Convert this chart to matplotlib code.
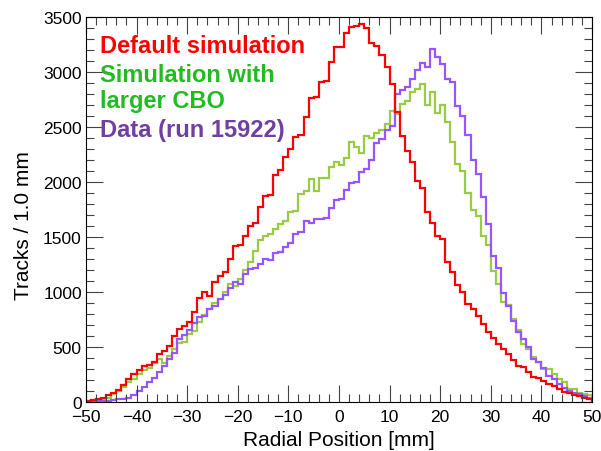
import numpy as np
import matplotlib
matplotlib.use("Agg")
import matplotlib.pyplot as plt
from matplotlib.ticker import MultipleLocator

# === DATA (tracks per 1 mm bin, bins from -50 to 50) ===
edges = np.arange(-50, 51, 1)

default_sim = [
    12, 18, 25, 34, 64, 88, 112, 155, 209, 255,        # -50 .. -41
    294, 330, 336, 366, 436, 466, 512, 603, 664, 694,   # -40 .. -31
    730, 818, 945, 1000, 966, 1094, 1145, 1180, 1300, 1418,   # -30 .. -21
    1427, 1512, 1603, 1627, 1773, 1872, 1880, 2063, 2112, 2227,  # -20 .. -11
    2300, 2409, 2430, 2590, 2763, 2770, 2909, 2920, 3090, 3227,  # -10 .. -1
    3230, 3354, 3412, 3420, 3440, 3400, 3263, 3240, 3157, 3045,  # 0 .. 9
    2890, 2636, 2421, 2285, 2181, 2012, 1951, 1724, 1633, 1512,  # 10 .. 19
    1482, 1270, 1179, 1064, 997, 891, 845, 785, 709, 640,        # 20 .. 29
    582, 527, 482, 436, 385, 330, 318, 276, 230, 224,            # 30 .. 39
    188, 164, 148, 124, 94, 79, 64, 58, 42, 33,                  # 40 .. 49
]

larger_cbo = [
    12, 15, 20, 28, 42, 73, 103, 142, 185, 215,
    255, 294, 315, 360, 391, 360, 421, 482, 536, 545,
    618, 648, 730, 791, 845, 900, 936, 997, 1073, 1060,
    1118, 1203, 1276, 1376, 1476, 1512, 1527, 1573, 1618, 1648,
    1724, 1739, 1891, 1918, 2027, 1918, 2042, 2042, 2139, 2179,
    2152, 2218, 2366, 2315, 2261, 2421, 2400, 2451, 2470, 2527,
    2648, 2618, 2709, 2733, 2815, 2845, 2891, 2705, 2815, 2630,
    2700, 2542, 2368, 2163, 2100, 1900, 1750, 1690, 1512, 1430,
    1188, 1073, 912, 882, 754, 655, 530, 480, 410, 366,
    306, 300, 255, 215, 185, 124, 118, 88, 73, 64,
]

data_run = [
    5, 7, 10, 12, 15, 20, 25, 25, 42, 64,
    103, 142, 179, 224, 270, 330, 397, 445, 573, 609,
    655, 718, 770, 785, 845, 876, 942, 973, 1042, 1094,
    1073, 1164, 1209, 1224, 1254, 1303, 1290, 1357, 1363, 1410,
    1451, 1530, 1548, 1644, 1630, 1668, 1668, 1672, 1762, 1838,
    1850, 1924, 1990, 1997, 2095, 2118, 2205, 2355, 2390, 2475,
    2510, 2805, 2840, 2865, 2936, 3015, 3083, 3050, 3209, 3136,
    3072, 2936, 2906, 2694, 2603, 2427, 2203, 2073, 1861, 1618,
    1330, 1215, 991, 876, 739, 639, 573, 497, 397, 361,
    315, 239, 209, 164, 133, 103, 88, 73, 58, 42,
]

line_colors = ["#ff0000", "#99cc44", "#9955ff"]
text_colors = ["#ff0000", "#22bb22", "#7040a0"]

# === PLOT ===
plt.rcParams['font.family'] = ['Liberation Sans', 'DejaVu Sans']

fig = plt.figure(figsize=(6.01, 4.52), dpi=100)
ax = fig.add_axes([0.143, 0.108, 0.842, 0.852])

ax.stairs(larger_cbo, edges, color=line_colors[1], lw=1.6)
ax.stairs(data_run, edges, color=line_colors[2], lw=1.6)
ax.stairs(default_sim, edges, color=line_colors[0], lw=1.6)

ax.set_xlim(-50, 50)
ax.set_ylim(0, 3500)
ax.xaxis.set_major_locator(MultipleLocator(10))
ax.xaxis.set_minor_locator(MultipleLocator(2))
ax.yaxis.set_major_locator(MultipleLocator(500))
ax.yaxis.set_minor_locator(MultipleLocator(100))
ax.tick_params(which='both', direction='in', top=True, right=True,
               labelsize=12.5, width=0.8, color='#444444')
ax.tick_params(which='major', length=12)
ax.tick_params(which='minor', length=6)
ax.tick_params(axis='x', pad=5)
ax.tick_params(axis='y', pad=3)

ax.set_xlabel("Radial Position [mm]", fontsize=15, labelpad=4)
ax.set_ylabel("Tracks / 1.0 mm", fontsize=15, labelpad=6)
ax.yaxis.set_label_coords(-0.105, 0.46)

ax.text(0.028, 0.925, "Default simulation", transform=ax.transAxes,
        color=text_colors[0], fontsize=17, fontweight='bold', va='center')
ax.text(0.028, 0.852, "Simulation with", transform=ax.transAxes,
        color=text_colors[1], fontsize=17, fontweight='bold', va='center')
ax.text(0.028, 0.784, "larger CBO", transform=ax.transAxes,
        color=text_colors[1], fontsize=17, fontweight='bold', va='center')
ax.text(0.028, 0.709, "Data (run 15922)", transform=ax.transAxes,
        color=text_colors[2], fontsize=17, fontweight='bold', va='center')

fig.savefig("out.png", dpi=100)
